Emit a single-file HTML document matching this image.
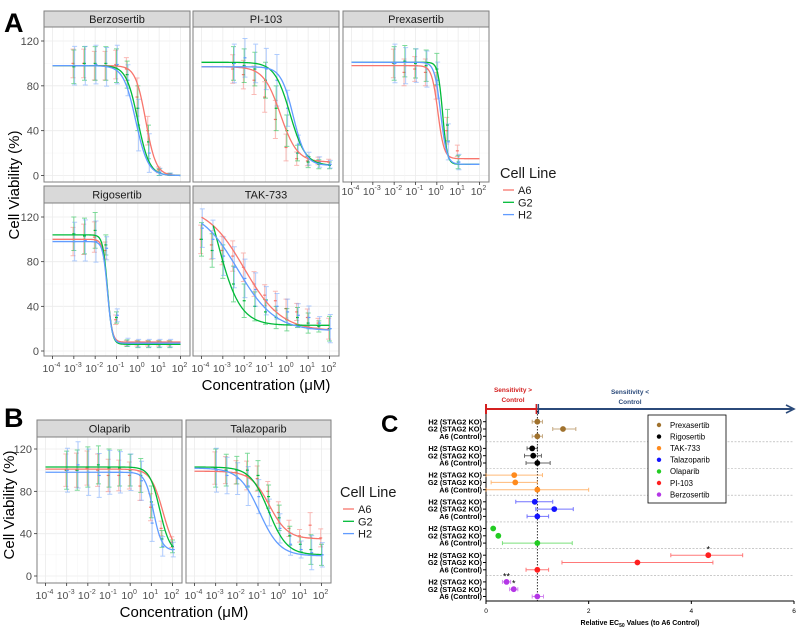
<!DOCTYPE html>
<html><head><meta charset="utf-8"><style>
html,body{margin:0;padding:0;background:#fff;}
svg{display:block;font-family:"Liberation Sans",sans-serif;}
</style></head><body>
<svg id="fig" width="796" height="629" viewBox="0 0 796 629" xmlns="http://www.w3.org/2000/svg"></svg>
<script>
// ---------- Panel A/B data ----------
const lineNames = ["A6","G2","H2"];
const berzoLogs = [-3,-2.5,-2,-1.5,-1,-0.5,0,0.5,1,1.5];
const berzoA6 = [100,100,98,98,99,95,70,40,5,1];
const berzoG2 = [97,100,100,100,98,90,60,30,3,1];
const berzoH2 = [98,98,99,97,99,85,45,20,3,1];
const berzoErr = [15,15,15,15,15,12,20,15,3,1];
const berzoFit = [[98,0,0.37,1.8],[98,0,0.0,1.6],[98,0,-0.1,1.5]];

const piLogs = [-2.5,-2,-1.5,-1,-0.5,0,0.5,1,1.5,2];
const piA6 = [95,90,85,70,50,25,15,13,13,12];
const piG2 = [100,98,95,85,60,40,20,12,10,9];
const piH2 = [100,105,100,95,85,60,28,15,12,10];
const piErr = [15,15,15,16,20,14,7,5,4,3];
const piFit = [[97,12,-0.3,1.1],[101,9,0.15,1.2],[97,9,0.3,1.5]];

const prexLogs = [-2,-1.5,-1,-0.5,0,0.5,1];
const prexA6 = [100,92,95,92,80,40,22];
const prexG2 = [100,102,100,98,95,45,12];
const prexH2 = [100,98,98,95,85,30,12];
const prexErr = [15,14,13,14,14,14,6];
const prexFit = [[98,15,0.05,3],[101,10,0.27,4],[101,10,0.18,3]];

const rigoLogs = [-3,-2.5,-2,-1.5,-1,-0.5,0,0.5,1,1.5];
const rigoA6 = [98,100,102,90,28,7,7,7,7,7];
const rigoG2 = [105,103,108,95,30,7,6,6,6,6];
const rigoH2 = [98,99,98,92,32,8,7,7,7,7];
const rigoErr = [15,16,16,9,5,3,3,3,3,3];
const rigoFit = [[100,8,-1.42,4],[104,6,-1.42,4],[98,7,-1.42,4]];

const takLogs = [-4,-3.5,-3,-2.5,-2,-1.5,-1,-0.5,0,0.5,1,1.5,2];
const takA6 = [100,95,90,85,75,60,50,45,38,35,30,25,20];
const takG2 = [100,90,80,60,45,40,35,30,28,30,25,22,20];
const takH2 = [110,100,85,75,65,55,45,40,35,32,30,25,20];
const takErr = [15,15,15,16,15,13,11,10,10,9,9,5,11];
const takFit = [[130,18,-2.0,0.5,-4],[180,23,-3.3,0.8,-3.45],[128,18,-2.3,0.5,-4]];

const olaLogs = [-3,-2.5,-2,-1.5,-1,-0.5,0,0.5,1,1.5,2];
const olaA6 = [100,100,102,100,95,95,95,85,65,45,32];
const olaG2 = [100,100,103,105,102,102,100,95,70,35,28];
const olaH2 = [100,105,98,95,98,98,98,90,50,28,25];
const olaErr = [18,19,19,18,18,17,15,16,15,8,6];
const olaFit = [[101,20,1.55,1.5],[103,22,1.4,1.8],[98,24,1.1,2.2]];

const talaLogs = [-3,-2.5,-2,-1.5,-1,-0.5,0,0.5,1,1.5,2];
const talaA6 = [102,100,98,95,92,80,60,45,38,48,36];
const talaG2 = [102,100,100,100,95,75,55,38,30,25,20];
const talaH2 = [100,95,92,85,75,60,45,30,25,22,20];
const talaErr = [18,15,13,16,14,11,12,9,7,14,10];
const talaFit = [[99,35,-0.47,1.0],[103,20,-0.5,1.0],[102,19,-0.93,0.9]];

// ---------- Panel C data ----------
const drugsC = ["Prexasertib","Rigosertib","TAK-733","Talazoparib","Olaparib","PI-103","Berzosertib"];
const colorsC = ["#a0722e","#000000","#ff8a1c","#1414ff","#22cc22","#ff1f1f","#b436e6"];
const rowLabels = ["H2 (STAG2 KO)","G2 (STAG2 KO)","A6 (Control)"];
const ecMean = [[1.0,1.5,1.0],[0.9,0.92,1.0],[0.55,0.57,1.0],[0.95,1.33,1.0],[0.14,0.24,1.0],[4.33,2.95,1.0],[0.4,0.54,1.0]];
const ecLow = [[0.9,1.3,0.9],[0.8,0.75,0.78],[0.0,0.1,0.0],[0.58,0.97,0.8],[0.14,0.24,0.32],[3.6,1.48,0.78],[0.32,0.46,0.9]];
const ecHigh = [[1.1,1.75,1.1],[1.0,1.08,1.25],[1.1,1.0,2.0],[1.3,1.7,1.22],[0.14,0.24,1.68],[5.0,4.42,1.22],[0.48,0.62,1.12]];
const ecStars = [["","",""],["","",""],["","",""],["","",""],["","",""],["*","",""],["**","*",""]];
const xTicksC = [0,2,4,6];

// ---------- helpers ----------
const NS = "http://www.w3.org/2000/svg";
const svg = document.getElementById("fig");
function mk(tag, attrs, parent, text){
  const e = document.createElementNS(NS, tag);
  for (const k in attrs) e.setAttribute(k, attrs[k]);
  if (text !== undefined) e.textContent = text;
  (parent || svg).appendChild(e);
  return e;
}
const lineColors = ["#F8766D","#00BA38","#619CFF"];
function logistic(p, lx){ return p[1] + (p[0]-p[1])/(1+Math.pow(10,(lx-p[2])*p[3])); }

function facet(name, x0, x1, stripTop, py0, py1, y0px, y120px, logs, series, err, fits, showY, showX, xLabY){
  const g = mk("g", {}, svg);
  
  
  const xs = lx => (x0+8.5) + (lx+4)/6*((x1-9.5)-(x0+8.5));
  const ys = v => y0px + (y120px - y0px)*v/120;
  const st = mk("rect", {x:x0, y:stripTop, width:x1-x0, height:py0-stripTop, fill:"#d9d9d9", stroke:"#7f7f7f", "stroke-width":1}, g);
  
  
  const stt = mk("text", {x:(x0+x1)/2, y:stripTop+(py0-stripTop)/2+4, "text-anchor":"middle", "font-size":11, fill:"#1a1a1a"}, g, name);
  
  
  mk("rect", {x:x0, y:py0, width:x1-x0, height:py1-py0, fill:"#fff"}, g);
  for (let v=0; v<=130; v+=20){
    const y = ys(v); if (y < py0+1) continue;
    mk("line", {x1:x0, x2:x1, y1:y, y2:y, stroke: v%40===0?"#ebebeb":"#f4f4f4", "stroke-width": v%40===0?0.8:0.5}, g);
  }
  for (let d=-4; d<=2; d+=0.5){
    const x = xs(d);
    mk("line", {x1:x, x2:x, y1:py0, y2:py1, stroke: Number.isInteger(d)?"#ebebeb":"#f4f4f4", "stroke-width": Number.isInteger(d)?0.8:0.5}, g);
  }
  series.forEach((vals, si) => {
    vals.forEach((v, i) => {
      const x = xs(logs[i]) + (si-1)*0.8;
      const e = err[i] * (0.85 + 0.15*si);
      const eb = mk("path", {d:`M${x},${ys(v+e)}V${ys(Math.max(v-e,0))}M${x-2.5},${ys(v+e)}h5M${x-2.5},${ys(Math.max(v-e,0))}h5`, stroke:lineColors[si], "stroke-opacity":0.5, "stroke-width":1, fill:"none"}, g);
      
      
      const pt = mk("line", {x1:x-1.5, x2:x+1.5, y1:ys(v), y2:ys(v), stroke:lineColors[si], "stroke-width":1.2}, g);
      
      
    });
  });
  fits.forEach((p, si) => {
    const start = p.length > 4 ? p[4] : -4;
    let d = "";
    for (let lx=start; lx<=2.0001; lx+=0.05){
      d += (d?"L":"M") + xs(lx).toFixed(2) + "," + ys(logistic(p,lx)).toFixed(2);
    }
    const c = mk("path", {d:d, stroke:lineColors[si], "stroke-width":1.3, fill:"none"}, g);
    
    
  });
  mk("rect", {x:x0, y:py0, width:x1-x0, height:py1-py0, fill:"none", stroke:"#7f7f7f", "stroke-width":1}, g);
  if (showY){
    [0,40,80,120].forEach(v => {
      mk("line", {x1:x0-3, x2:x0, y1:ys(v), y2:ys(v), stroke:"#333", "stroke-width":0.8}, g);
      const t = mk("text", {x:x0-5, y:ys(v)+4, "text-anchor":"end", "font-size":11, fill:"#4d4d4d"}, g, String(v));
      
      
    });
  }
  if (showX){
    for (let d=-4; d<=2; d++){
      mk("line", {x1:xs(d), x2:xs(d), y1:py1, y2:py1+3, stroke:"#333", "stroke-width":0.8}, g);
      const t = mk("text", {x:xs(d)-1, y:xLabY, "text-anchor":"middle", "font-size":10.5, fill:"#4d4d4d"}, g);
      
      
      mk("tspan", {}, t, "10");
      mk("tspan", {dy:-5, "font-size":7}, t, String(d));
    }
  }
}

function legend(x, y, prefix){
  const g = mk("g", {}, svg);
  
  
  mk("text", {x:x, y:y, "font-size":14.5, fill:"#1a1a1a"}, g, "Cell Line");
  lineNames.forEach((n, i) => {
    const yy = y + 16 + i*12.3;
    const l = mk("line", {x1:x+3, x2:x+14, y1:yy-4, y2:yy-4, stroke:lineColors[i], "stroke-width":1.3}, g);
    
    
    const t = mk("text", {x:x+18, y:yy, "font-size":11, fill:"#1a1a1a"}, g, n);
    
    
  });
}

// ---------- Panel A ----------
facet("Berzosertib", 44,190, 11,27,182, 175.5,41, berzoLogs,[berzoA6,berzoG2,berzoH2],berzoErr,berzoFit,true,false,0);
facet("PI-103", 193,339, 11,27,182, 175.5,41, piLogs,[piA6,piG2,piH2],piErr,piFit,false,false,0);
facet("Prexasertib", 343,489, 11,27,182, 175.5,41, prexLogs,[prexA6,prexG2,prexH2],prexErr,prexFit,false,true,195);
facet("Rigosertib", 44,190, 186,203,356, 351,217, rigoLogs,[rigoA6,rigoG2,rigoH2],rigoErr,rigoFit,true,true,372);
facet("TAK-733", 193,339, 186,203,356, 351,217, takLogs,[takA6,takG2,takH2],takErr,takFit,false,true,372);
legend(500,178,"panel-a");
let t;
t = mk("text", {x:4, y:32, "font-size":27, "font-weight":"bold", fill:"#000"}, svg, "A");
 
t = mk("text", {x:266, y:390, "text-anchor":"middle", "font-size":15, fill:"#000"}, svg, "Concentration (μM)");
 
t = mk("text", {x:0, y:0, "text-anchor":"middle", "font-size":15, fill:"#000", transform:"translate(19,185) rotate(-90)"}, svg, "Cell Viability (%)");
 

// ---------- Panel B ----------
facet("Olaparib", 37,182, 420,437,583, 576,449, olaLogs,[olaA6,olaG2,olaH2],olaErr,olaFit,true,false,0);
facet("Talazoparib", 186,331, 420,437,583, 576,449, talaLogs,[talaA6,talaG2,talaH2],talaErr,talaFit,false,false,0);
[[37,182],[186,331]].forEach(([x0,x1]) => {
  for (let d=-4; d<=2; d++){
    const x = (x0+8.5) + (d+4)/6*((x1-9.5)-(x0+8.5));
    mk("line", {x1:x, x2:x, y1:583, y2:586, stroke:"#333", "stroke-width":0.8});
    const tt = mk("text", {x:x-1, y:599, "text-anchor":"middle", "font-size":10.5, fill:"#4d4d4d"});
    
    
    mk("tspan", {}, tt, "10");
    mk("tspan", {dy:-5, "font-size":7}, tt, String(d));
  }
});
legend(340,497,"panel-b");
t = mk("text", {x:4, y:427, "font-size":27, "font-weight":"bold", fill:"#000"}, svg, "B");
 
t = mk("text", {x:184, y:617, "text-anchor":"middle", "font-size":15, fill:"#000"}, svg, "Concentration (μM)");
 
t = mk("text", {x:0, y:0, "text-anchor":"middle", "font-size":15, fill:"#000", transform:"translate(14,505) rotate(-90)"}, svg, "Cell Viability (%)");
 

// ---------- Panel C ----------
(function(){
  const g = mk("g", {}, svg);
  
  
  const xs = v => 486 + v*(794-486)/6;
  const rowY = (gi, ri) => 421.7 + gi*26.7 + ri*7.3;
  let tx = mk("text", {x:381, y:432, "font-size":24, "font-weight":"bold", fill:"#000"}, g, "C");
   
  mk("line", {x1:xs(0), x2:xs(1), y1:409, y2:409, stroke:"#d42020", "stroke-width":2}, g);
  mk("line", {x1:xs(0), x2:xs(0), y1:404, y2:414, stroke:"#d42020", "stroke-width":2}, g);
  mk("line", {x1:xs(1)-1, x2:xs(1)-1, y1:404, y2:414, stroke:"#d42020", "stroke-width":1.5}, g);
  mk("line", {x1:xs(1), x2:792, y1:409, y2:409, stroke:"#2b4a7a", "stroke-width":2}, g);
  mk("line", {x1:xs(1)+1, x2:xs(1)+1, y1:404, y2:414, stroke:"#2b4a7a", "stroke-width":1.5}, g);
  mk("path", {d:"M786,405 L794,409 L786,413", stroke:"#2b4a7a", "stroke-width":1.6, fill:"none"}, g);
  tx = mk("text", {x:513, y:392, "text-anchor":"middle", "font-size":6.5, "font-weight":"bold", fill:"#d42020"}, g, "Sensitivity >");
   
  mk("text", {x:513, y:402, "text-anchor":"middle", "font-size":6.5, "font-weight":"bold", fill:"#d42020"}, g, "Control");
  tx = mk("text", {x:630, y:394, "text-anchor":"middle", "font-size":6.5, "font-weight":"bold", fill:"#2b4a7a"}, g, "Sensitivity <");
   
  mk("text", {x:630, y:404, "text-anchor":"middle", "font-size":6.5, "font-weight":"bold", fill:"#2b4a7a"}, g, "Control");
  for (let gi=1; gi<drugsC.length; gi++){
    const y = rowY(gi,0) - 6.6;
    mk("line", {x1:486, x2:794, y1:y, y2:y, stroke:"#aaa", "stroke-width":0.6, "stroke-dasharray":"2,1.5"}, g);
  }
  mk("line", {x1:xs(1), x2:xs(1), y1:411, y2:601, stroke:"#000", "stroke-width":0.8, "stroke-dasharray":"1.5,1.5"}, g);
  mk("line", {x1:486, x2:486, y1:414, y2:601, stroke:"#000", "stroke-width":1}, g);
  mk("line", {x1:486, x2:794, y1:601, y2:601, stroke:"#000", "stroke-width":1}, g);
  xTicksC.forEach(v => {
    mk("line", {x1:xs(v), x2:xs(v), y1:601, y2:604, stroke:"#000", "stroke-width":1}, g);
    const tt = mk("text", {x:xs(v), y:613, "text-anchor":"middle", "font-size":6.5, fill:"#000"}, g, String(v));
     
  });
  tx = mk("text", {x:640, y:625, "text-anchor":"middle", "font-size":7, "font-weight":"bold", fill:"#000"}, g);
   
  mk("tspan", {}, tx, "Relative EC");
  mk("tspan", {dy:2, "font-size":5}, tx, "50");
  mk("tspan", {dy:-2}, tx, " Values (to A6 Control)");
  drugsC.forEach((dname, gi) => {
    rowLabels.forEach((lab, ri) => {
      const y = rowY(gi, ri);
      mk("line", {x1:483, x2:486, y1:y, y2:y, stroke:"#000", "stroke-width":1}, g);
      const lt = mk("text", {x:482, y:y+2.6, "text-anchor":"end", "font-size":7.4, "font-weight":"bold", fill:"#000"}, g, lab);
       
      const col = colorsC[gi];
      const lo = ecLow[gi][ri], hi = ecHigh[gi][ri], m = ecMean[gi][ri];
      if (hi > lo){
        const eb = mk("path", {d:`M${xs(lo)},${y}H${xs(hi)}M${xs(lo)},${y-2}v4M${xs(hi)},${y-2}v4`, stroke:col, "stroke-opacity":0.6, "stroke-width":1, fill:"none"}, g);
        
        
      }
      const pt = mk("circle", {cx:xs(m), cy:y, r:2.9, fill:col}, g);
      
      
      if (ecStars[gi][ri]){
        const s = mk("text", {x:xs(m), y:y-2.5, "text-anchor":"middle", "font-size":9, fill:"#000"}, g, ecStars[gi][ri]);
         
      }
    });
  });
  const lg = mk("g", {}, g);
  
  
  mk("rect", {x:648, y:415, width:78, height:88, fill:"#fff", stroke:"#000", "stroke-width":0.8}, lg);
  drugsC.forEach((dname, i) => {
    const y = 425 + i*11.6;
    mk("circle", {cx:659, cy:y, r:2.2, fill:colorsC[i]}, lg);
    const lt = mk("text", {x:670, y:y+2.8, "font-size":7.8, fill:"#000"}, lg, dname);
     
  });
})();
</script>
</body></html>
